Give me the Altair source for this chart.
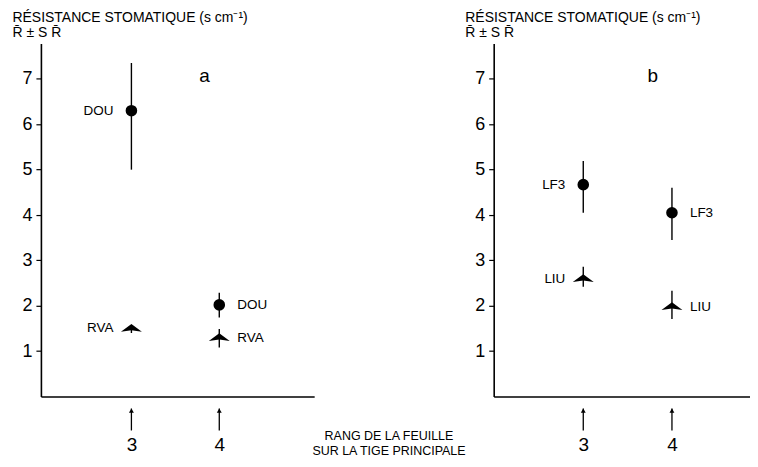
import altair as alt
import pandas as pd

# --- data ---
panneau = ["a", "a", "a", "a", "b", "b", "b", "b"]
rang = [3, 3, 4, 4, 3, 3, 4, 4]
variete = ["DOU", "RVA", "DOU", "RVA", "LF3", "LIU", "LF3", "LIU"]
moyenne = [6.3, 1.5, 2.02, 1.3, 4.67, 2.6, 4.05, 1.98]
bas = [5.0, 1.4, 1.74, 1.08, 4.05, 2.42, 3.45, 1.71]
haut = [7.35, 1.55, 2.29, 1.49, 5.19, 2.86, 4.6, 2.33]
symbole = ["rond", "aile", "rond", "aile", "rond", "aile", "rond", "aile"]
cote = ["g", "g", "d", "d", "g", "g", "d", "d"]

y_ticks = [1, 2, 3, 4, 5, 6, 7]
x_ticks = [3, 4]

df = pd.DataFrame(dict(panneau=panneau, rang=rang, variete=variete, moyenne=moyenne,
                       bas=bas, haut=haut, symbole=symbole, cote=cote))

FONT = "Liberation Sans"
H = 354
AILE = "M0,-0.42 L1,0.32 L0,0.18 L-1,0.32 Z"
Y_TITLE = ["RÉSISTANCE STOMATIQUE (s  cm⁻¹)", "R̄ ± S R̄"]


def panel(letter, width, xdom, letter_dx):
    d = df[df.panneau == letter]
    base = alt.Chart(d)
    xs = alt.Scale(domain=xdom, nice=False, zero=False)
    ys = alt.Scale(domain=[0, 7.78], nice=False, zero=True)
    x = alt.X("rang:Q", scale=xs,
              axis=alt.Axis(values=x_ticks, ticks=False, grid=False, title=None, format="d",
                            labelPadding=39, labelFontSize=19, labelFont=FONT,
                            labelColor="black", domainColor="black", domainWidth=1.6))
    y = alt.Y("moyenne:Q", scale=ys,
              axis=alt.Axis(values=y_ticks, grid=False, tickSize=5, tickColor="black",
                            tickWidth=1.2, labelFontSize=18, labelFont=FONT, labelPadding=4,
                            labelColor="black", domainColor="black", domainWidth=1.6,
                            title=Y_TITLE, titleAngle=0, titleAlign="left",
                            titleBaseline="bottom", titleX=-29, titleY=-19,
                            titleFont=FONT, titleFontSize=14, titleFontWeight="normal",
                            titleColor="black", titleLineHeight=15))
    err = base.mark_rule(color="black", strokeWidth=1.4).encode(
        x=x, y=alt.Y("bas:Q", scale=ys), y2="haut:Q")
    pts = base.mark_point(filled=True, color="black", opacity=1).encode(
        x=alt.X("rang:Q", scale=xs), y=y,
        shape=alt.Shape("symbole:N", scale=alt.Scale(domain=["rond", "aile"],
                                                      range=["circle", AILE]), legend=None),
        size=alt.Size("symbole:N", scale=alt.Scale(domain=["rond", "aile"],
                                                    range=[135, 440]), legend=None))
    lab_g = base.transform_filter(alt.datum.cote == "g").mark_text(
        align="right", baseline="middle", dx=-18, font=FONT, fontSize=13.5, color="black").encode(
        x=alt.X("rang:Q", scale=xs), y=alt.Y("moyenne:Q", scale=ys), text="variete:N")
    lab_d = base.transform_filter(alt.datum.cote == "d").mark_text(
        align="left", baseline="middle", dx=18, font=FONT, fontSize=13.5, color="black").encode(
        x=alt.X("rang:Q", scale=xs), y=alt.Y("moyenne:Q", scale=ys), text="variete:N")
    ticks_df = alt.Chart(pd.DataFrame({"rang": x_ticks}))
    arrow_line = ticks_df.mark_rule(color="black", strokeWidth=1.3).encode(
        x=alt.X("rang:Q", scale=xs), y=alt.value(H + 12), y2=alt.value(H + 34))
    arrow_head = ticks_df.mark_point(shape="triangle-up", filled=True, color="black",
                                     opacity=1, size=24).encode(
        x=alt.X("rang:Q", scale=xs), y=alt.value(H + 14))
    return alt.layer(err, pts, lab_g, lab_d, arrow_line, arrow_head).properties(
        width=width, height=H,
        title=alt.TitleParams(letter, orient="top", anchor="middle", fontSize=19,
                              font=FONT, fontWeight="normal", color="black",
                              dx=letter_dx, offset=-76))


left = panel("a", 274, [1.97, 5.08], 27)
right = panel("b", 257, [1.99, 4.88], 31)

chart = alt.hconcat(left, right, spacing=151).properties(
    background="white",
    padding={"left": 4, "top": 2, "right": 0, "bottom": 0},
    title=alt.TitleParams(["RANG DE LA FEUILLE", "SUR LA TIGE PRINCIPALE"], orient="bottom",
                          anchor="middle", fontSize=12.5, font=FONT, fontWeight="normal",
                          color="black", lineHeight=15, offset=-24, dx=8)
).configure_view(stroke=None)

chart.save("out.html", embed_options={"renderer": "svg", "actions": False})
